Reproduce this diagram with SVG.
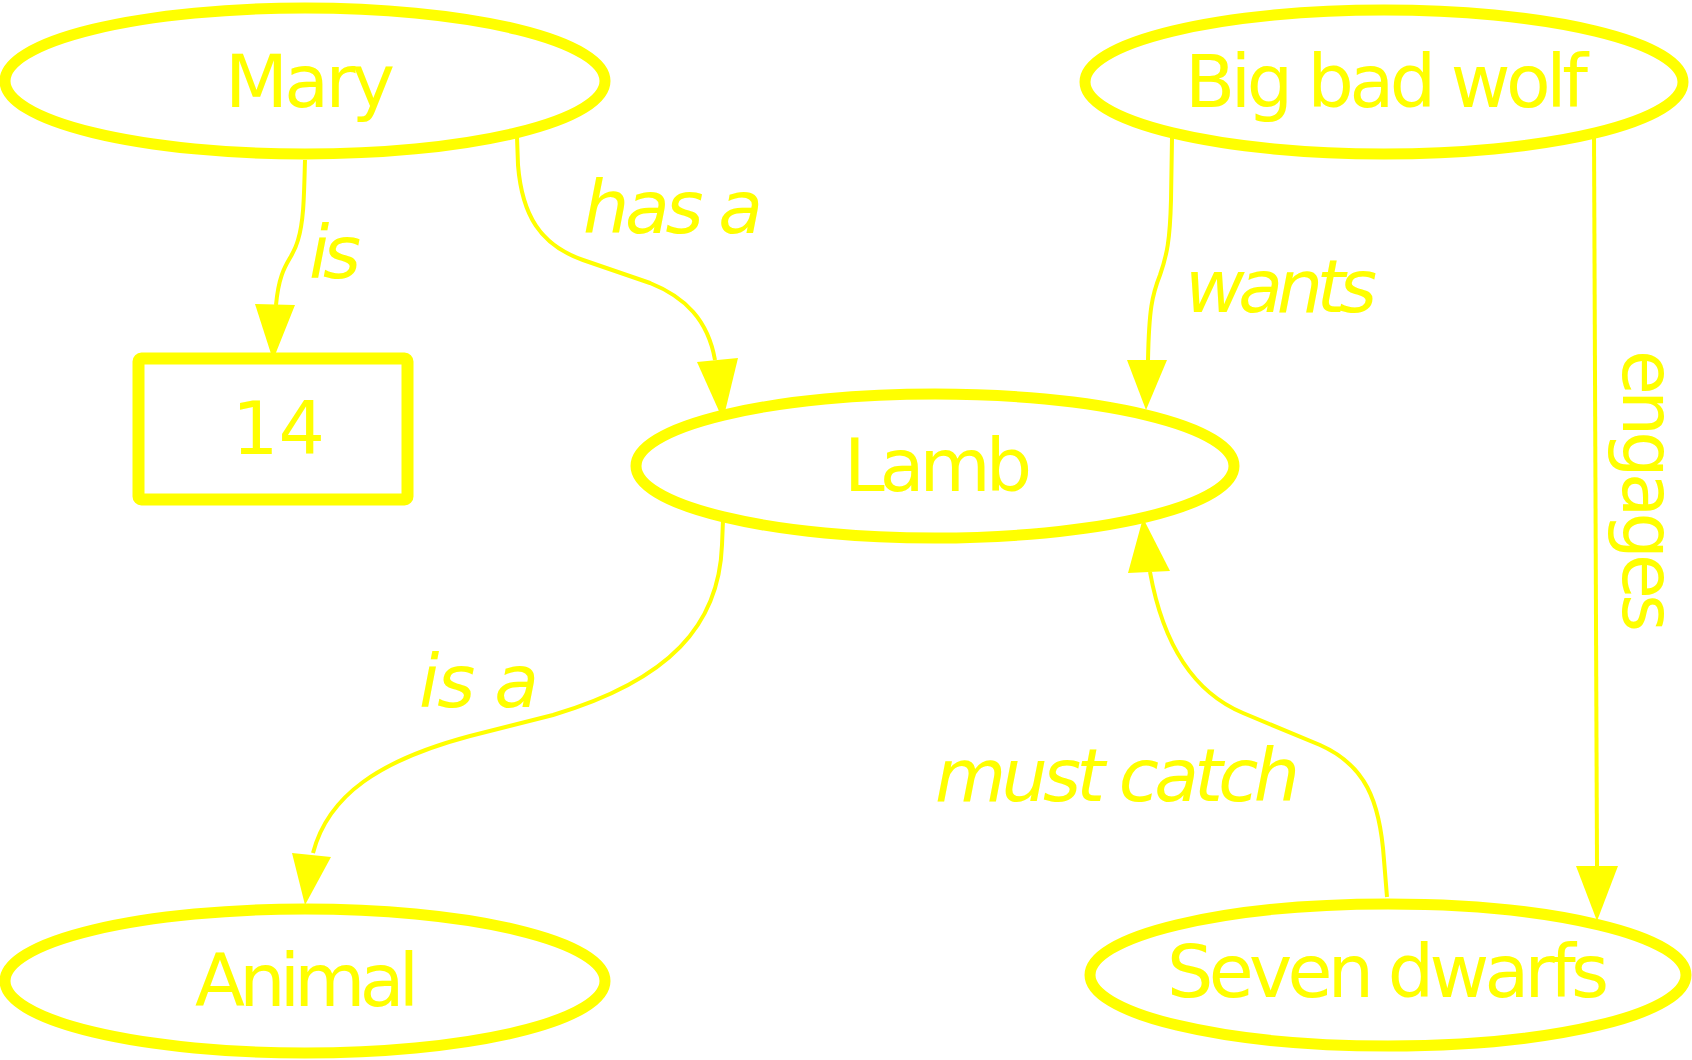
<svg xmlns="http://www.w3.org/2000/svg" width="1692" height="1060" viewBox="0 0 1692 1060">
<style>
.node ellipse, .node rect { fill: none; stroke: #ffff00; stroke-width: 11; }
.node rect { stroke-width: 12; }
.nt { font-family: "DejaVu Sans", sans-serif; font-size: 73px; fill: #ffff00; }
.edge path, .edge line { fill: none; stroke: #ffff00; stroke-width: 4; }
.edge polygon { fill: #ffff00; stroke: none; }
.lbl { font-family: "DejaVu Sans", sans-serif; font-size: 73px; font-style: italic; fill: #ffff00; }
.up { font-style: normal; }
</style>
<g id="connectors" class="edge">
  <g id="e-mary-14">
    <path d="M305,160 C304,195 304,220 298,240 C292,262 280,262 276,305"/>
    <polygon points="255,304 295,305 273,360"/>
    <text class="lbl" x="309" y="278" textLength="52" lengthAdjust="spacing">is</text>
  </g>
  <g id="e-mary-lamb">
    <path d="M517,137 L518,165 C522,215 540,245 583,260 L650,283 C685,297 708,320 715,360"/>
    <polygon points="697,362 738,358 723,420"/>
    <text class="lbl" x="583" y="233" textLength="180" lengthAdjust="spacing">has a</text>
  </g>
  <g id="e-wolf-lamb">
    <path d="M1172,138 L1171,200 C1170,240 1167,255 1160,275 C1152,295 1149,310 1148,360"/>
    <polygon points="1127,360 1167,360 1146,410"/>
    <text class="lbl" x="1185" y="312" textLength="192" lengthAdjust="spacing">wants</text>
  </g>
  <g id="e-wolf-dwarfs">
    <line x1="1594" y1="133" x2="1597" y2="866"/>
    <polygon points="1576,866 1618,866 1597,921"/>
    <text class="lbl up" transform="translate(1623,350) rotate(90)" x="0" y="0" textLength="282" lengthAdjust="spacing">engages</text>
  </g>
  <g id="e-lamb-animal">
    <path d="M723,520 L722,545 C719,625 670,680 553,715 L470,736 C380,760 328,795 313,853"/>
    <polygon points="292,853 331,857 305,905"/>
    <text class="lbl" x="419" y="707" textLength="120" lengthAdjust="spacing">is a</text>
  </g>
  <g id="e-dwarfs-lamb">
    <path d="M1387,897 L1384,860 C1380,800 1365,765 1320,745 L1243,713 C1200,695 1165,655 1150,572"/>
    <polygon points="1128,573 1170,571 1143,518"/>
    <text class="lbl" x="935" y="801" textLength="365" lengthAdjust="spacing">must catch</text>
  </g>
</g>
<g id="n-mary" class="node">
  <ellipse cx="305" cy="81" rx="300" ry="73"/>
  <text class="nt" x="225" y="107" textLength="170" lengthAdjust="spacing">Mary</text>
</g>
<g id="n-wolf" class="node">
  <ellipse cx="1384" cy="82" rx="299" ry="72"/>
  <text class="nt" x="1185" y="107" textLength="403" lengthAdjust="spacing">Big bad wolf</text>
</g>
<g id="n-14" class="node">
  <rect x="138.5" y="358.5" width="269" height="141" rx="3"/>
  <text class="nt" x="232" y="454">14</text>
</g>
<g id="n-lamb" class="node">
  <ellipse cx="935" cy="466" rx="299" ry="72"/>
  <text class="nt" x="844" y="491" textLength="188" lengthAdjust="spacing">Lamb</text>
</g>
<g id="n-animal" class="node">
  <ellipse cx="305" cy="981" rx="300" ry="72"/>
  <text class="nt" x="195" y="1006" textLength="224" lengthAdjust="spacing">Animal</text>
</g>
<g id="n-dwarfs" class="node">
  <ellipse cx="1388" cy="975" rx="298" ry="71"/>
  <text class="nt" x="1167" y="997" textLength="442" lengthAdjust="spacing">Seven dwarfs</text>
</g>
</svg>
